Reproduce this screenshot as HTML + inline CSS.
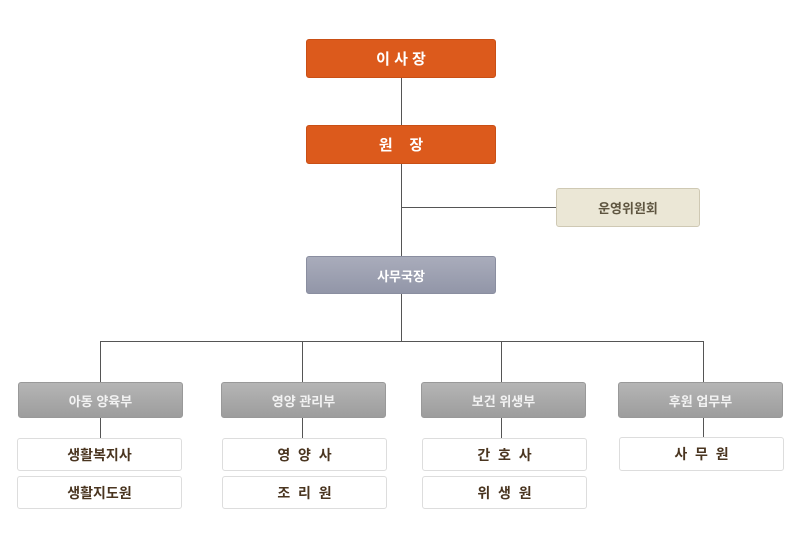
<!DOCTYPE html><html><head><meta charset="utf-8"><style>
body{margin:0;width:800px;height:550px;background:#fff;position:relative;font-family:"Liberation Sans","Noto Sans CJK KR",sans-serif;overflow:hidden}
.b{position:absolute;box-sizing:border-box;display:flex;align-items:center;justify-content:center;font-weight:bold;border-radius:3px}
.o{background:#dc5a1c;color:#fff;font-size:15px;border:1px solid #c94f15}
.g{background:linear-gradient(#a9acbb,#9296a8);color:#fff;font-size:13px;border:1px solid #8a8ea0}
.c{background:#ebe7d6;color:#5e5540;font-size:13px;border:1px solid #cfc9b4}
.d{background:linear-gradient(#b5b5b5,#9d9d9d);color:#f2f2f2;font-size:13px;border:1px solid #999}
.s{background:#fff;color:#4a3520;font-size:14px;border:1px solid #ddd}
.l{position:absolute;background:#555}
</style></head><body>
<div class="l" style="left:401px;top:78px;width:1px;height:47px"></div>
<div class="l" style="left:401px;top:164px;width:1px;height:92px"></div>
<div class="l" style="left:401px;top:207px;width:155px;height:1px"></div>
<div class="l" style="left:401px;top:293px;width:1px;height:48px"></div>
<div class="l" style="left:100px;top:341px;width:604px;height:1px"></div>
<div class="l" style="left:100px;top:341px;width:1px;height:41px"></div>
<div class="l" style="left:302px;top:341px;width:1px;height:41px"></div>
<div class="l" style="left:501px;top:341px;width:1px;height:41px"></div>
<div class="l" style="left:703px;top:341px;width:1px;height:41px"></div>
<div class="l" style="left:100px;top:417px;width:1px;height:21px"></div>
<div class="l" style="left:302px;top:417px;width:1px;height:21px"></div>
<div class="l" style="left:501px;top:417px;width:1px;height:21px"></div>
<div class="l" style="left:703px;top:417px;width:1px;height:21px"></div>
<div class="b o" style="left:306px;top:39px;width:190px;height:39px">이 사 장</div>
<div class="b o" style="left:306px;top:125px;width:190px;height:39px">원 &nbsp;&nbsp;&nbsp;장</div>
<div class="b c" style="left:556px;top:188px;width:144px;height:39px">운영위원회</div>
<div class="b g" style="left:306px;top:256px;width:190px;height:38px">사무국장</div>
<div class="b d" style="left:18px;top:382px;width:165px;height:36px">아동 양육부</div>
<div class="b d" style="left:221px;top:382px;width:165px;height:36px">영양 관리부</div>
<div class="b d" style="left:421px;top:382px;width:165px;height:36px">보건 위생부</div>
<div class="b d" style="left:618px;top:382px;width:165px;height:36px">후원 업무부</div>
<div class="b s" style="left:17px;top:438px;width:165px;height:33px">생활복지사</div>
<div class="b s" style="left:17px;top:476px;width:165px;height:33px">생활지도원</div>
<div class="b s" style="left:222px;top:438px;width:165px;height:33px">영 &nbsp;양 &nbsp;사</div>
<div class="b s" style="left:222px;top:476px;width:165px;height:33px">조 &nbsp;리 &nbsp;원</div>
<div class="b s" style="left:422px;top:438px;width:165px;height:33px">간 &nbsp;호 &nbsp;사</div>
<div class="b s" style="left:422px;top:476px;width:165px;height:33px">위 &nbsp;생 &nbsp;원</div>
<div class="b s" style="left:619px;top:437px;width:165px;height:34px">사 &nbsp;무 &nbsp;원</div>
</body></html>
